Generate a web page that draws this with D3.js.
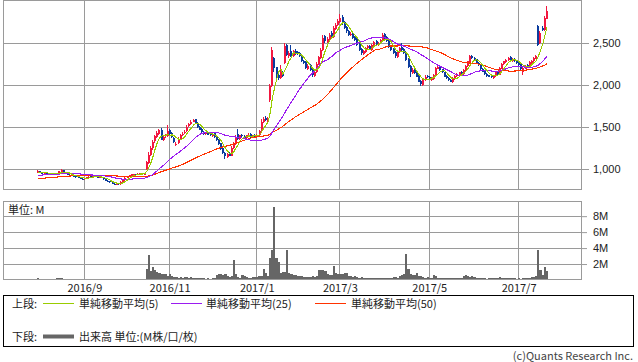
<!DOCTYPE html>
<html>
<head>
<meta charset="utf-8">
<script src="https://cdn.jsdelivr.net/npm/d3@7"></script>
<style>
  body { margin: 0; background: #fff; }
  svg { display: block; font-family: "Noto Sans CJK JP", "Noto Sans", sans-serif; }
</style>
</head>
<body>
<svg id="chart" width="638" height="362"></svg>
<script>
// market holidays (TSE) inside the window
const holidays = ["2016-07-18", "2016-08-11", "2016-09-19", "2016-09-22", "2016-10-10", "2016-11-03",
  "2016-11-23", "2016-12-23", "2017-01-02", "2017-01-03", "2017-01-09", "2017-03-20",
  "2017-05-03", "2017-05-04", "2017-05-05", "2017-07-17", "2017-08-11"];
const windowStart = "2016-07-07";
const windowEnd = "2017-08-15";
const dataStart = "2016-08-01";

const monthTicks = ["2016-09", "2016-11", "2017-01", "2017-03", "2017-05", "2017-07"];
const monthLabels = ["2016/9", "2016/11", "2017/1", "2017/3", "2017/5", "2017/7"];
const priceTicks = [1000, 1500, 2000, 2500];
const volumeTicks = [2, 4, 6, 8];

// closes before the first drawn candle, only used to seed the moving averages
const priorCloses = [820, 825, 830, 828, 835, 840, 838, 845, 842, 850, 848, 855, 850, 846, 840, 838, 842, 848,
  852, 858, 855, 860, 865, 862, 868, 875, 885, 890, 898, 905, 910, 915, 912, 920, 925, 922, 918, 915, 920,
  925, 930, 935, 928, 932, 938, 942, 945, 950, 955];

const opens = [
  960, 975, 958, 945, 955, 938, 945, 936, 940, 952, 938, 970, 985, 962, 946, 932, 926, 916, 912, 903, 895, 886,
  878, 890, 900, 912, 904, 916, 908, 898, 906, 896, 882, 862, 852, 842, 826, 812, 832, 818, 848, 868,
  893, 908, 922, 936, 942, 928, 944, 952, 936,
  1000, 1075, 1165, 1245, 1330, 1380, 1420, 1470, 1340, 1390, 1390, 1470, 1430, 1370, 1280,
  1310, 1350, 1410, 1425, 1450, 1510, 1535, 1565, 1590, 1545, 1505,
  1475, 1445, 1415, 1435, 1415, 1395, 1425, 1385, 1345, 1305, 1245, 1195, 1145, 1185,
  1160, 1250, 1300, 1420, 1355, 1405, 1395, 1365, 1395, 1415, 1375, 1405, 1385,
  1405, 1450, 1560, 1610, 1575, 1820, 1990, 2320, 2210, 2120, 2080, 2160, 2260, 2480, 2340,
  2400, 2340, 2410, 2390, 2380, 2345, 2290, 2270, 2190, 2240, 2185, 2110,
  2150, 2250, 2320, 2420, 2580, 2510, 2545, 2620, 2570, 2670, 2710, 2750,
  2810, 2745, 2690, 2645, 2590, 2620, 2570, 2545, 2485, 2430,
  2370, 2395, 2435, 2470, 2420, 2475, 2520, 2480, 2495, 2530, 2610, 2570,
  2525, 2460, 2430, 2390, 2330, 2395, 2450, 2430, 2390, 2310, 2230, 2140, 2190, 2150, 2110, 2050,
  2000, 2055, 2110, 2095, 2060, 2075, 2115, 2195, 2220, 2185, 2150, 2105, 2085, 2065,
  2030, 2075, 2105, 2125, 2155, 2135, 2175, 2225, 2270, 2350, 2325, 2305, 2265, 2245, 2195, 2165, 2135, 2115, 2105,
  2080, 2105, 2155, 2125, 2195, 2245, 2275, 2295, 2330, 2285, 2315, 2285, 2265, 2245, 2160, 2195, 2235, 2215, 2265, 2285, 2315,
  2700, 2500, 2680, 2650, 2790
];
const highs = [
  985, 980, 965, 962, 960, 952, 950, 948, 958, 958, 980, 995, 990, 966, 950, 938, 930, 922, 918, 908, 898, 892,
  895, 905, 915, 915, 920, 918, 910, 910, 908, 898, 885, 865, 855, 845, 830, 835, 835, 855, 875, 900,
  915, 930, 940, 945, 945, 950, 958, 955, 950,
  1100, 1200, 1270, 1340, 1410, 1450, 1480, 1490, 1400, 1420, 1520, 1480, 1440, 1380, 1320,
  1380, 1420, 1440, 1460, 1520, 1550, 1580, 1600, 1600, 1560, 1510,
  1485, 1455, 1445, 1445, 1425, 1430, 1435, 1395, 1355, 1315, 1255, 1205, 1195, 1200,
  1270, 1320, 1400, 1480, 1410, 1415, 1405, 1410, 1425, 1425, 1410, 1415, 1420,
  1470, 1590, 1625, 1630, 1620, 2010, 2450, 2330, 2220, 2140, 2240, 2170, 2500, 2490, 2400,
  2480, 2420, 2430, 2400, 2390, 2355, 2300, 2280, 2250, 2250, 2195, 2170,
  2270, 2350, 2440, 2600, 2600, 2570, 2620, 2640, 2700, 2740, 2790, 2850,
  2830, 2760, 2700, 2660, 2630, 2630, 2580, 2560, 2495, 2440,
  2420, 2455, 2475, 2480, 2490, 2525, 2530, 2510, 2550, 2620, 2625, 2580,
  2535, 2470, 2440, 2400, 2410, 2450, 2500, 2440, 2400, 2320, 2240, 2200, 2200, 2160, 2120, 2060,
  2070, 2115, 2120, 2105, 2090, 2130, 2215, 2230, 2230, 2195, 2160, 2115, 2095, 2075,
  2090, 2120, 2140, 2160, 2165, 2190, 2240, 2290, 2360, 2360, 2335, 2310, 2275, 2250, 2205, 2175, 2145, 2125, 2110,
  2120, 2160, 2165, 2210, 2260, 2290, 2310, 2335, 2340, 2320, 2325, 2295, 2275, 2255, 2210, 2240, 2245, 2280, 2300, 2335, 2360,
  2720, 2640, 2700, 2820, 2940
];
const lows = [
  952, 955, 944, 940, 936, 934, 932, 930, 936, 930, 935, 965, 955, 940, 925, 918, 912, 905, 898, 888, 878, 872,
  872, 885, 895, 900, 900, 905, 895, 895, 890, 875, 855, 845, 835, 818, 808, 808, 815, 815, 845, 862,
  888, 905, 918, 930, 925, 925, 940, 932, 932,
  990, 1060, 1150, 1230, 1310, 1370, 1410, 1340, 1330, 1370, 1380, 1410, 1370, 1310, 1270,
  1300, 1340, 1395, 1415, 1440, 1500, 1525, 1555, 1530, 1490, 1460,
  1430, 1410, 1405, 1400, 1390, 1385, 1370, 1330, 1290, 1230, 1180, 1120, 1135, 1150,
  1155, 1240, 1290, 1350, 1345, 1380, 1360, 1355, 1385, 1370, 1365, 1380, 1375,
  1395, 1440, 1550, 1570, 1560, 1800, 1975, 2160, 2060, 2060, 2070, 2090, 2250, 2340, 2320,
  2330, 2330, 2360, 2355, 2330, 2270, 2245, 2190, 2180, 2170, 2100, 2090,
  2140, 2240, 2310, 2410, 2500, 2500, 2535, 2570, 2560, 2660, 2700, 2740,
  2720, 2670, 2625, 2585, 2580, 2550, 2525, 2470, 2400, 2360,
  2360, 2385, 2425, 2420, 2410, 2465, 2480, 2470, 2485, 2520, 2550, 2510,
  2440, 2410, 2370, 2320, 2320, 2385, 2410, 2370, 2290, 2200, 2100, 2130, 2130, 2090, 2030, 1990,
  1990, 2045, 2080, 2060, 2050, 2065, 2105, 2185, 2170, 2140, 2090, 2070, 2050, 2030,
  2020, 2065, 2095, 2115, 2130, 2125, 2165, 2215, 2260, 2310, 2290, 2250, 2230, 2180, 2150, 2120, 2100, 2090, 2080,
  2070, 2095, 2120, 2115, 2185, 2235, 2265, 2285, 2280, 2275, 2270, 2250, 2230, 2180, 2120, 2185, 2210, 2205, 2255, 2275, 2305,
  2460, 2490, 2640, 2640, 2780
];
const closes = [
  975, 960, 948, 955, 940, 945, 938, 942, 950, 935, 972, 985, 960, 945, 930, 925, 918, 910, 905, 895, 885, 880,
  890, 900, 910, 905, 915, 908, 900, 905, 895, 880, 860, 850, 840, 825, 815, 830, 820, 850, 870, 895,
  910, 925, 935, 940, 930, 945, 950, 938, 945,
  1080, 1170, 1250, 1320, 1390, 1430, 1460, 1350, 1380, 1400, 1450, 1420, 1380, 1320, 1300,
  1360, 1400, 1420, 1440, 1500, 1530, 1560, 1580, 1540, 1500, 1470,
  1440, 1420, 1430, 1410, 1400, 1420, 1380, 1340, 1300, 1240, 1190, 1150, 1180, 1160,
  1250, 1300, 1380, 1360, 1400, 1390, 1370, 1400, 1410, 1380, 1400, 1390, 1410,
  1450, 1560, 1600, 1580, 1600, 1990, 2420, 2200, 2100, 2080, 2150, 2110, 2460, 2360, 2380,
  2350, 2400, 2380, 2370, 2340, 2280, 2260, 2200, 2230, 2180, 2120, 2150,
  2250, 2330, 2420, 2560, 2520, 2550, 2600, 2580, 2680, 2720, 2760, 2800,
  2740, 2680, 2640, 2600, 2610, 2560, 2540, 2480, 2420, 2380,
  2400, 2440, 2460, 2430, 2480, 2510, 2490, 2500, 2540, 2600, 2560, 2520,
  2450, 2420, 2380, 2340, 2400, 2440, 2420, 2380, 2300, 2220, 2150, 2180, 2140, 2100, 2040, 2010,
  2060, 2100, 2090, 2070, 2080, 2120, 2200, 2210, 2180, 2150, 2100, 2080, 2060, 2040,
  2080, 2110, 2130, 2150, 2140, 2180, 2230, 2280, 2340, 2320, 2300, 2260, 2240, 2190, 2160, 2130, 2110, 2100, 2090,
  2110, 2150, 2130, 2200, 2250, 2280, 2300, 2320, 2290, 2310, 2280, 2260, 2240, 2190, 2200, 2230, 2220, 2270, 2290, 2320, 2340,
  2480, 2620, 2660, 2800, 2880
];
// volume in millions of shares
const volumes = [
  0.22, 0.18, 0.15, 0.12, 0.08, 0.06, 0.05, 0.07, 0.10, 0.20, 0.24, 0.22, 0.12, 0.06, 0.05, 0.08, 0.15, 0.14, 0.06, 0.14, 0.12, 0.05,
  0.04, 0.03, 0.03, 0.04, 0.02, 0.03, 0.03, 0.04, 0.05, 0.06, 0.10, 0.05, 0.04, 0.03, 0.03, 0.05, 0.08, 0.06, 0.15, 0.14,
  0.06, 0.05, 0.04, 0.05, 0.04, 0.05, 0.06, 0.05, 0.08,
  1.4, 3.1, 1.1, 1.6, 1.2, 1.0, 0.85, 0.8, 0.75, 0.7, 0.5, 0.7, 0.45, 0.4, 0.35,
  0.3, 0.35, 0.3, 0.4, 0.35, 0.3, 0.35, 0.3, 0.25, 0.3, 0.25,
  0.2, 0.2, 0.15, 0.2, 0.15, 0.2, 0.3, 0.6, 0.8, 0.7, 0.6, 0.8, 0.5, 0.4,
  0.5, 2.5, 0.8, 0.4, 0.3, 0.6, 0.5, 0.35, 0.3, 0.3, 0.4, 0.35, 0.4,
  0.5, 0.45, 1.4, 0.9, 0.5, 2.7, 3.7, 9.1, 2.7, 2.3, 0.9, 1.0, 1.0, 3.7, 0.9,
  0.7, 0.6, 0.6, 0.5, 0.5, 0.45, 0.4, 0.4, 0.35, 0.4, 0.5, 0.4,
  0.5, 1.3, 1.3, 1.2, 1.1, 0.7, 0.6, 0.6, 1.7, 0.9, 0.7, 0.8, 0.8, 0.9, 0.9, 0.5, 0.5, 0.4, 0.5, 0.4,
  0.3, 0.35, 0.3, 0.25, 0.3, 0.3, 0.25, 0.3, 0.2, 0.3, 0.25, 0.2, 0.3, 0.25, 0.3, 0.3, 0.4, 0.35, 0.3, 0.5, 0.6, 0.8,
  3.2, 1.4, 0.8, 0.6, 0.6, 0.9, 0.5, 0.5,
  0.4, 0.3, 0.35, 0.3, 0.3, 0.6, 0.5, 0.3, 0.25, 0.2, 0.2, 0.2, 0.2, 0.25, 0.2, 0.2, 0.25, 0.2, 0.2,
  0.5, 0.6, 0.55, 0.4, 0.45, 0.35, 0.2, 0.2, 0.2, 0.25, 0.2, 0.15, 0.2, 0.2, 0.2,
  0.3, 0.3, 0.35, 0.3, 0.25, 0.3, 0.2, 0.2, 0.2, 0.2, 0.15, 0.2, 0.15, 0.2, 0.25, 0.2, 0.3, 0.4, 0.4, 0.45,
  3.7, 1.3, 0.6, 1.6, 1.1
];

const COLORS = {
  up: '#f2173f',
  down: '#0b3c9e',
  ma5: '#99cc00',
  ma25: '#9b1cf0',
  ma50: '#ff3300',
  volume: '#666666',
  grid: '#9a9a9a',
  text: '#222'
};

const fmtDay = d3.timeFormat('%Y-%m-%d');
const parseDay = d3.timeParse('%Y-%m-%d');

// trading days of the window
const days = d3.timeDay.range(parseDay(windowStart), d3.timeDay.offset(parseDay(windowEnd), 1))
  .filter(d => d.getDay() > 0 && d.getDay() < 6)
  .map(fmtDay)
  .filter(d => holidays.indexOf(d) < 0);

const startIndex = days.indexOf(dataStart);
const n = Math.min(opens.length, highs.length, lows.length, closes.length, volumes.length);

const allCloses = priorCloses.concat(closes);
function movingAverage(period) {
  return d3.range(n).map(i => {
    const j = i + priorCloses.length;
    const from = Math.max(0, j - period + 1);
    return d3.mean(allCloses.slice(from, j + 1));
  });
}

const bars = d3.range(n).map(i => ({
  day: days[startIndex + i],
  o: opens[i], h: highs[i], l: lows[i], c: closes[i], v: volumes[i]
}));

const ui = {
  left: 3, right: 582,
  priceTop: 0, priceBottom: 190,
  volTop: 201, volBottom: 280
};

const svg = d3.select('#chart');

const x = d3.scaleBand().domain(days).range([ui.left, ui.right]);
const cx = d => x(d) + x.bandwidth() / 2;
const yPrice = d3.scaleLinear().domain([750, 3012]).range([ui.priceBottom, ui.priceTop]);
const yVol = d3.scaleLinear().domain([0, 9.9]).range([ui.volBottom, ui.volTop]);

const monthDays = monthTicks.map(m => days.find(d => d.slice(0, 7) === m));
const crisp = v => Math.round(v) + 0.5;

/**
 * Grid for one panel
 */
function drawPanel(top, bottom, yScale, yTicks) {
  const g = svg.append('g');
  g.selectAll('line.hgrid')
    .data(yTicks)
    .enter()
    .append('line')
    .attr('x1', ui.left).attr('x2', ui.right)
    .attr('y1', d => crisp(yScale(d))).attr('y2', d => crisp(yScale(d)))
    .attr('stroke', COLORS.grid);
  g.selectAll('line.vgrid')
    .data(monthDays)
    .enter()
    .append('line')
    .attr('x1', d => crisp(x(d))).attr('x2', d => crisp(x(d)))
    .attr('y1', top).attr('y2', bottom)
    .attr('stroke', COLORS.grid);
  return g;
}

function drawFrame(top, bottom) {
  svg.append('rect')
    .attr('x', ui.left + 0.5).attr('y', top + 0.5)
    .attr('width', ui.right - ui.left - 1).attr('height', bottom - top - 1)
    .attr('fill', 'none').attr('stroke', COLORS.grid);
}

// price panel
drawPanel(ui.priceTop, ui.priceBottom, yPrice, priceTicks);

const candles = svg.append('g').attr('shape-rendering', 'crispEdges');
candles.selectAll('line')
  .data(bars)
  .enter()
  .append('line')
  .attr('x1', d => Math.round(cx(d.day) - 1) + 0.5)
  .attr('x2', d => Math.round(cx(d.day) - 1) + 0.5)
  .attr('y1', d => yPrice(d.h))
  .attr('y2', d => yPrice(d.l))
  .attr('stroke', d => d.c >= d.o ? COLORS.up : COLORS.down);
candles.selectAll('rect')
  .data(bars)
  .enter()
  .append('rect')
  .attr('x', d => Math.round(cx(d.day) - 1))
  .attr('width', 2)
  .attr('y', d => yPrice(Math.max(d.o, d.c)))
  .attr('height', d => Math.max(1, Math.abs(yPrice(d.o) - yPrice(d.c))))
  .attr('fill', d => d.c >= d.o ? COLORS.up : COLORS.down);

const maLine = d3.line().x((d, i) => cx(bars[i].day)).y(d => yPrice(d));
[[50, COLORS.ma50], [25, COLORS.ma25], [5, COLORS.ma5]].forEach(([period, color]) => {
  svg.append('path')
    .attr('d', maLine(movingAverage(period)))
    .attr('fill', 'none')
    .attr('stroke', color)
    .attr('stroke-width', 1.1)
    .attr('shape-rendering', 'crispEdges');
});

drawFrame(ui.priceTop, ui.priceBottom);

const priceAxis = svg.append('g')
  .attr('transform', `translate(${ui.right},0)`)
  .call(d3.axisRight(yPrice).tickValues(priceTicks).tickFormat(d3.format(',')).tickSize(7).tickPadding(4));
priceAxis.select('.domain').remove();

// volume panel
drawPanel(ui.volTop, ui.volBottom, yVol, volumeTicks);

svg.append('g')
  .attr('shape-rendering', 'crispEdges')
  .selectAll('rect')
  .data(bars)
  .enter()
  .append('rect')
  .attr('x', d => Math.round(x(d.day)))
  .attr('width', d => Math.max(2, Math.round(x(d.day) + x.step()) - Math.round(x(d.day))))
  .attr('y', d => yVol(d.v))
  .attr('height', d => ui.volBottom - yVol(d.v))
  .attr('fill', COLORS.volume);

drawFrame(ui.volTop, ui.volBottom);

const volAxis = svg.append('g')
  .attr('transform', `translate(${ui.right},0)`)
  .call(d3.axisRight(yVol).tickValues(volumeTicks).tickFormat(d => d + 'M').tickSize(5).tickPadding(6));
volAxis.select('.domain').remove();

[priceAxis, volAxis].forEach(a => {
  a.selectAll('line').attr('stroke', COLORS.grid);
  a.selectAll('text').attr('fill', COLORS.text).style('font-size', '11px').style('font-family', null);
});

svg.append('text')
  .attr('x', 8).attr('y', 214)
  .attr('fill', COLORS.text).style('font-size', '11px')
  .text('単位: M');

// month labels
svg.append('g')
  .selectAll('text')
  .data(monthDays)
  .enter()
  .append('text')
  .attr('x', d => x(d) + 1)
  .attr('y', 292)
  .attr('text-anchor', 'middle')
  .attr('fill', COLORS.text)
  .style('font-size', '11px')
  .text((d, i) => monthLabels[i]);

// legend
const legend = svg.append('g');
legend.append('rect')
  .attr('x', 3.5).attr('y', 295.5).attr('width', 630).attr('height', 51)
  .attr('fill', 'none').attr('stroke', '#000');

const legendText = (tx, ty, label) => legend.append('text')
  .attr('x', tx).attr('y', ty).attr('fill', COLORS.text).style('font-size', '11px').text(label);

legendText(12, 307.5, '上段:');
[[43, 79, COLORS.ma5, '単純移動平均(5)'], [171, 206, COLORS.ma25, '単純移動平均(25)'], [315, 351, COLORS.ma50, '単純移動平均(50)']]
  .forEach(([lx, tx, color, label]) => {
    legend.append('line')
      .attr('x1', lx).attr('x2', lx + 31).attr('y1', 303.5).attr('y2', 303.5)
      .attr('stroke', color);
    legendText(tx, 307.5, label);
  });

legendText(12, 341, '下段:');
legend.append('line')
  .attr('x1', 43).attr('x2', 74).attr('y1', 336.5).attr('y2', 336.5)
  .attr('stroke', COLORS.volume).attr('stroke-width', 4);
legendText(79, 341, '出来高 単位:(M株/口/枚)');

svg.append('text')
  .attr('x', 633).attr('y', 360)
  .attr('text-anchor', 'end')
  .attr('fill', '#444')
  .style('font-size', '11px')
  .text('(c)Quants Research Inc.');
</script>
</body>
</html>
